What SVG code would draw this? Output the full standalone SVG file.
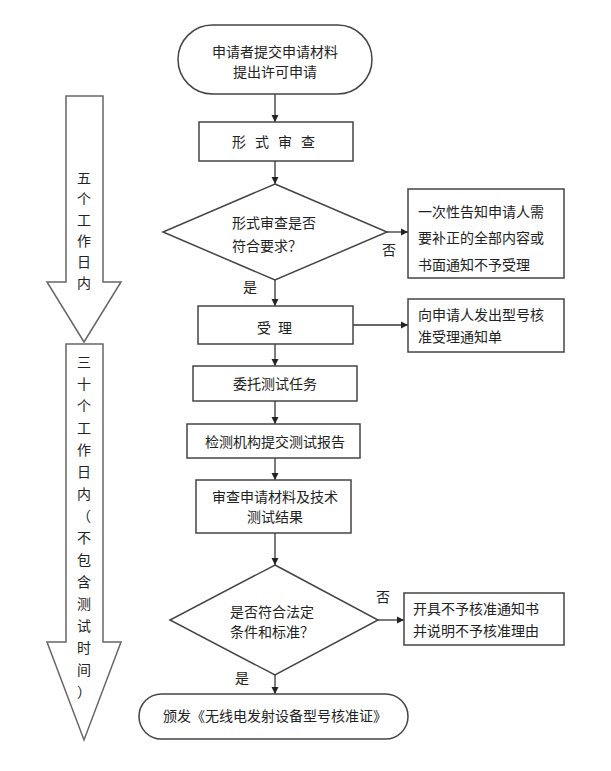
<svg xmlns="http://www.w3.org/2000/svg" width="611" height="771" viewBox="0 0 611 771">
<defs>
<style>
.s{fill:#fff;stroke:#444;stroke-width:1.5}
.a{fill:#fff;stroke:#666;stroke-width:1.5}
.t{font-family:"Noto Sans CJK SC","Noto Sans",sans-serif;font-size:14px;fill:#222}
.m{text-anchor:middle}
.c{stroke:#333;stroke-width:1.3;fill:none;marker-end:url(#ah)}
</style>
<marker id="ah" markerWidth="8" markerHeight="8" refX="7" refY="4" orient="auto" markerUnits="userSpaceOnUse">
<path d="M0,0.5 L7,4 L0,7.5 z" fill="#222"/>
</marker>
</defs>
<rect width="611" height="771" fill="#fff"/>

<g id="arrow1">
<path class="a" d="M66,96 H103 V282 H121 L84,342 L47,282 H66 Z"/>
<text class="t m" x="84"><tspan x="84" y="183">五</tspan><tspan x="84" y="204">个</tspan><tspan x="84" y="225">工</tspan><tspan x="84" y="246">作</tspan><tspan x="84" y="267">日</tspan><tspan x="84" y="288">内</tspan></text>
</g>
<g id="arrow2">
<path class="a" d="M66,344 H103 V642 H121 L84,740 L47,642 H66 Z"/>
<text class="t m"><tspan x="84" y="367">三</tspan><tspan x="84" y="389">十</tspan><tspan x="84" y="411">个</tspan><tspan x="84" y="433">工</tspan><tspan x="84" y="455">作</tspan><tspan x="84" y="477">日</tspan><tspan x="84" y="499">内</tspan><tspan x="84" y="521">（</tspan><tspan x="84" y="543">不</tspan><tspan x="84" y="565">包</tspan><tspan x="84" y="587">含</tspan><tspan x="84" y="609">测</tspan><tspan x="84" y="631">试</tspan><tspan x="84" y="653">时</tspan><tspan x="84" y="675">间</tspan><tspan x="84" y="697">）</tspan></text>
</g>

<g id="connectors">
<line class="c" x1="275" y1="94" x2="275" y2="122"/>
<line class="c" x1="275" y1="161" x2="275" y2="184"/>
<line class="c" x1="387" y1="232" x2="408" y2="232"/>
<line class="c" x1="275" y1="280" x2="275" y2="306"/>
<line class="c" x1="353" y1="325" x2="408" y2="325"/>
<line class="c" x1="275" y1="344" x2="275" y2="366"/>
<line class="c" x1="275" y1="401" x2="275" y2="424"/>
<line class="c" x1="275" y1="458" x2="275" y2="480"/>
<line class="c" x1="275" y1="533" x2="275" y2="565"/>
<line class="c" x1="378" y1="620" x2="404" y2="620"/>
<line class="c" x1="275" y1="675" x2="275" y2="694"/>
<text class="t" x="382" y="255">否</text>
<text class="t" x="243" y="292">是</text>
<text class="t" x="376" y="602">否</text>
<text class="t" x="235" y="683">是</text>
</g>

<g id="start">
<rect class="s" x="178" y="25" width="194" height="69" rx="34.5"/>
<text class="t m" x="275" y="57">申请者提交申请材料</text>
<text class="t m" x="275" y="77">提出许可申请</text>
</g>
<g id="formal">
<rect class="s" x="199" y="122" width="154" height="39"/>
<text class="t" x="232 255 278 301" y="147">形式审查</text>
</g>
<g id="d1">
<polygon class="s" points="275,184 387,232 275,280 163,232"/>
<text class="t" x="232" y="228">形式审查是否</text>
<text class="t" x="232" y="251">符合要求？</text>
</g>
<g id="notify1">
<rect class="s" x="408" y="189" width="156" height="89"/>
<text class="t" x="418" y="217">一次性告知申请人需</text>
<text class="t" x="418" y="243">要补正的全部内容或</text>
<text class="t" x="418" y="270">书面通知不予受理</text>
</g>
<g id="accept">
<rect class="s" x="198" y="306" width="155" height="38"/>
<text class="t" x="257 278" y="333">受理</text>
</g>
<g id="notify2">
<rect class="s" x="408" y="299" width="156" height="53"/>
<text class="t" x="418" y="320">向申请人发出型号核</text>
<text class="t" x="418" y="342">准受理通知单</text>
</g>
<g id="entrust">
<rect class="s" x="193" y="366" width="164" height="35"/>
<text class="t m" x="275" y="389">委托测试任务</text>
</g>
<g id="report">
<rect class="s" x="187" y="424" width="173" height="34"/>
<text class="t m" x="275" y="447">检测机构提交测试报告</text>
</g>
<g id="review">
<rect class="s" x="196" y="480" width="155" height="53"/>
<text class="t m" x="275" y="502">审查申请材料及技术</text>
<text class="t m" x="275" y="522">测试结果</text>
</g>
<g id="d2">
<polygon class="s" points="275,565 378,620 275,675 170,620"/>
<text class="t" x="230" y="617">是否符合法定</text>
<text class="t" x="230" y="637">条件和标准？</text>
</g>
<g id="notify3">
<rect class="s" x="404" y="593" width="160" height="52"/>
<text class="t" x="413" y="614">开具不予核准通知书</text>
<text class="t" x="413" y="636">并说明不予核准理由</text>
</g>
<g id="end">
<rect class="s" x="139" y="694" width="269" height="45" rx="22.5"/>
<text class="t m" x="275" y="721">颁发《无线电发射设备型号核准证》</text>
</g>
</svg>
